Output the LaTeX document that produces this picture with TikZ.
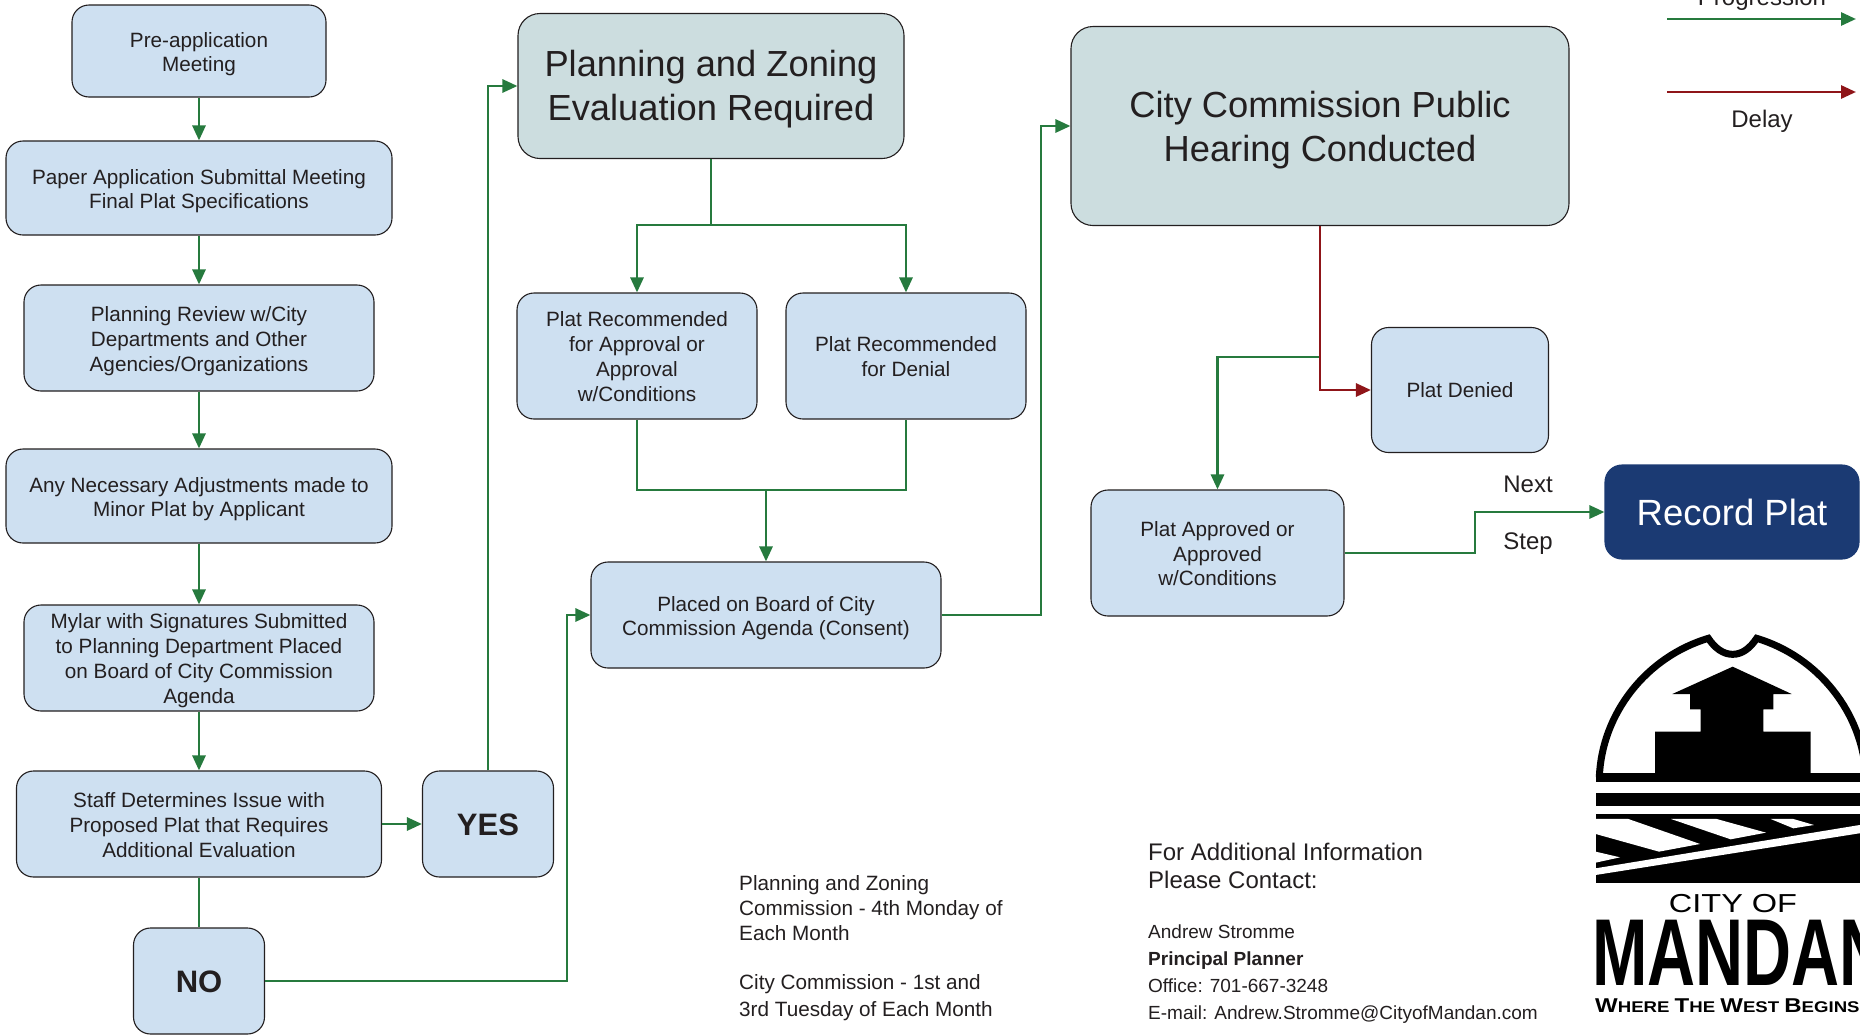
\documentclass[tikz,border=0pt]{standalone}
\usepackage{fontspec}
\setmainfont{Liberation Sans}
\usetikzlibrary{arrows.meta}
\definecolor{boxblue}{HTML}{CEE0F1}
\definecolor{boxgrey}{HTML}{CCDDDF}
\definecolor{flowgreen}{HTML}{267A3E}
\definecolor{flowred}{HTML}{8F1519}
\definecolor{navy}{HTML}{1B3A73}
\definecolor{ink}{HTML}{231F20}
\newcommand\txtdrop[1]{\rule{0pt}{\dimexpr.73em+#1pt+#1pt\relax}}
\tikzset{
  x=1pt,y=-1pt,
  base/.style={rectangle,rounded corners=17pt,draw=ink,line width=1.1pt,fill=boxblue,text=ink,align=center,inner sep=0pt,font=\fontsize{20.7}{24.8}\selectfont},
  big/.style={base,fill=boxgrey,rounded corners=22pt,font=\fontsize{36.3}{44}\selectfont},
  answer/.style={base,font=\fontsize{31}{36}\selectfont\bfseries},
  record/.style={base,fill=navy,draw=navy,text=white,font=\fontsize{36.5}{44}\selectfont},
  flow/.style={draw=flowgreen,line width=2.8pt},
  go/.style={flow,-{Triangle[length=15pt,width=13pt]}},
  late/.style={draw=flowred,line width=2.8pt,-{Triangle[length=15pt,width=13pt]}},
  note/.style={text=ink,align=left,anchor=north west,inner sep=0pt,font=\fontsize{20.7}{25}\selectfont},
  label/.style={text=ink,inner sep=0pt,font=\fontsize{24}{27}\selectfont},
}
\begin{document}
\begin{tikzpicture}
\useasboundingbox (0,0) rectangle (1860,1034);
\fill[white] (0,0) rectangle (1860,1034);
% left column
\node[base,minimum width=254pt,minimum height=92pt] (pre) at (199,51) {\txtdrop{3}Pre-application\\Meeting};
\node[base,minimum width=386pt,minimum height=94pt] (paper) at (199,188) {\txtdrop{3}Paper Application Submittal Meeting\\Final Plat Specifications};
\node[base,minimum width=350pt,minimum height=106pt] (review) at (199,338) {\txtdrop{3}Planning Review w/City\\Departments and Other\\Agencies/Organizations};
\node[base,minimum width=386pt,minimum height=94pt] (adjust) at (199,496) {\txtdrop{3}Any Necessary Adjustments made to\\Minor Plat by Applicant};
\node[base,minimum width=350pt,minimum height=106pt] (mylar) at (199,658) {\txtdrop{2.5}Mylar with Signatures Submitted\\to Planning Department Placed\\on Board of City Commission\\Agenda};
\node[base,minimum width=365pt,minimum height=106pt] (staff) at (199,824) {\txtdrop{1.2}Staff Determines Issue with\\Proposed Plat that Requires\\Additional Evaluation};
\node[answer,minimum width=131pt,minimum height=106pt] (yes) at (488,824) {\txtdrop{0.5}YES};
\node[answer,minimum width=131pt,minimum height=106pt] (no) at (199,981) {\txtdrop{0.2}NO};
% middle column
\node[big,minimum width=386pt,minimum height=145pt] (pz) at (711,86) {\txtdrop{3.4}Planning and Zoning\\Evaluation Required};
\node[base,minimum width=240pt,minimum height=126pt] (rec) at (637,356) {\txtdrop{0.7}Plat Recommended\\for Approval or\\Approval\\w/Conditions};
\node[base,minimum width=240pt,minimum height=126pt] (den) at (906,356) {\txtdrop{0.7}Plat Recommended\\for Denial};
\node[base,minimum width=350pt,minimum height=106pt] (agenda) at (766,615) {\txtdrop{3}Placed on Board of City\\Commission Agenda (Consent)};
% right column
\node[big,minimum width=498pt,minimum height=199pt] (city) at (1320,126) {\txtdrop{4.5}City Commission Public\\Hearing Conducted};
\node[base,minimum width=177pt,minimum height=125pt] (denied) at (1460,390) {Plat Denied};
\node[base,minimum width=253pt,minimum height=126pt] (appr) at (1217.5,553) {\txtdrop{0.6}Plat Approved or\\Approved\\w/Conditions};
\node[record,minimum width=254pt,minimum height=94pt] (plat) at (1732,512) {Record Plat};
% connector helpers
\coordinate (split) at (711,225);
\coordinate (join) at (766,490);
\coordinate (noturn) at (567,981);
\coordinate (agturn) at (1041,615);
\coordinate (fork) at (1320,357);
\coordinate (stepturn) at (1475,553);
\coordinate (legG) at (1667,19);
\coordinate (legGe) at (1856,19);
\coordinate (legR) at (1667,92);
\coordinate (legRe) at (1856,92);
% connectors
\draw[go] (pre) -- (paper);
\draw[go] (paper) -- (review);
\draw[go] (review) -- (adjust);
\draw[go] (adjust) -- (mylar);
\draw[go] (mylar) -- (staff);
\draw[go] (staff) -- (yes);
\draw[flow] (staff) -- (no);
\draw[go] (yes.north) |- (pz.west);
\draw[go] (no.east) -- (noturn) |- (agenda.west);
\draw[flow] (pz.south) -- (split);
\draw[go] (split) -| (rec.north);
\draw[go] (split) -| (den.north);
\draw[flow] (rec.south) |- (join) -| (den.south);
\draw[go] (join) -- (agenda.north);
\draw[go] (agenda.east) -- (agturn) |- (city.west);
\draw[go] (fork) -| (appr.north);
\draw[late] (city.south) |- (denied.west);
\draw[go] (appr.east) -- (stepturn) |- (plat.west);
\draw[go] (legG) -- (legGe);
\draw[late] (legR) -- (legRe);
% labels
\node[label] (progress) at (1762,-1) {Progression};
\node[label] (delay) at (1762,121) {Delay};
\node[label] (next) at (1528,484) {Next};
\node[label] (stp) at (1528,544) {Step};
\node[note] (n1) at (739,875) {Planning and Zoning\\Commission - 4th Monday of\\Each Month};
\node[note,font=\fontsize{20.7}{27}\selectfont] (n2) at (739,974) {City Commission - 1st and\\3rd Tuesday of Each Month};
\node[note,font=\fontsize{24}{28}\selectfont] (n3) at (1148,843) {For Additional Information\\Please Contact:};
\node[note,font=\fontsize{19}{26.8}\selectfont] (n4) at (1148,925) {Andrew Stromme\\\textbf{Principal Planner}\\Office: 701-667-3248\\E-mail: Andrew.Stromme@CityofMandan.com};
% logo
\begin{scope}[shift={(1560,620)},x=0.3333pt,y=-0.3333pt]
\draw[black,line width=7pt,fill=white] (118,472) .. controls (125,280) and (260,110) .. (445,55)
  .. controls (465,85) and (490,103) .. (518,103) .. controls (546,103) and (570,85) .. (590,55)
  .. controls (775,110) and (910,280) .. (918,472);
\fill[black] (518,140) -- (695,222) -- (640,222) -- (640,268) -- (610,268) -- (610,335) -- (752,335) -- (752,460) -- (285,460) -- (285,335) -- (422,335) -- (422,268) -- (390,268) -- (390,222) -- (337,222) -- cycle;
\fill[black] (107,460) rectangle (930,485);
\fill[black] (107,520) rectangle (930,557);
\fill[black] (107,582) rectangle (930,790);
\fill[white] (107,597) -- (205,597) -- (420,672) -- (297,695) -- (107,642) -- cycle;
\fill[white] (333,597) -- (470,597) -- (618,638) -- (512,658) -- cycle;
\fill[white] (632,597) -- (700,597) -- (762,615) -- (700,625) -- cycle;
\fill[white] (107,695) -- (180,712) -- (107,728) -- cycle;
\fill[white] (107,745) -- (930,610) -- (930,635) -- (107,765) -- cycle;
\end{scope}
\node[inner sep=0pt,text=black,font=\fontsize{26}{28}\selectfont] (cityof) at (1733,904) {\scalebox{1.25}[1]{CITY OF}};
\node[inner sep=0pt,anchor=west,text=black,font=\fontsize{95}{95}\selectfont\bfseries] (mandan) at (1592,953) {\scalebox{0.70}[1]{MANDAN}};
\node[inner sep=0pt,anchor=west,text=black,font=\fontsize{20}{22}\selectfont\bfseries] (motto) at (1595,1006) {\scalebox{1.2}[1]{W\fontsize{15.5}{22}\selectfont HERE \fontsize{20}{22}\selectfont T\fontsize{15.5}{22}\selectfont HE \fontsize{20}{22}\selectfont W\fontsize{15.5}{22}\selectfont EST \fontsize{20}{22}\selectfont B\fontsize{15.5}{22}\selectfont EGINS}};
\end{tikzpicture}
\end{document}
